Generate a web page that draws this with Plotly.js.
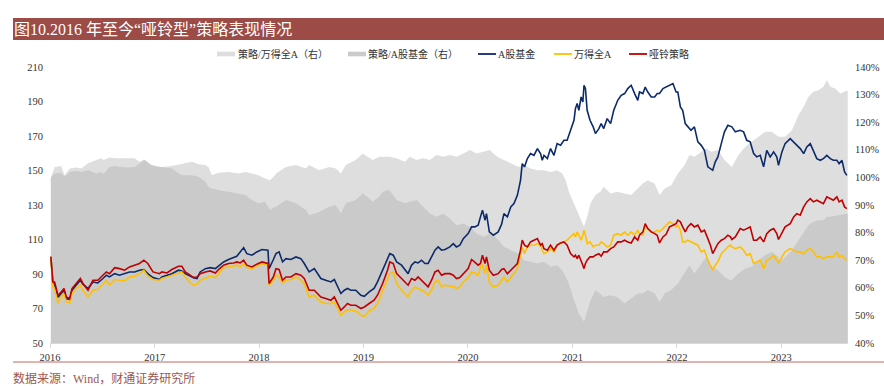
<!DOCTYPE html>
<html>
<head>
<meta charset="utf-8">
<script src="https://cdn.plot.ly/plotly-3.0.1.min.js"></script>
<style>html,body{margin:0;padding:0;background:#fff;}#chart{width:884px;height:386px;}</style>
</head>
<body>
<div id="chart"></div>
<script>
// ---------- DATA ----------
const titleText = '图10.2016 年至今“哑铃型”策略表现情况';
const sourceText = '数据来源：Wind，财通证券研究所';
const seriesNames = ['策略/万得全A（右）', '策略/A股基金（右）', 'A股基金', '万得全A', '哑铃策略'];
const yearTicks = ['2016-01-01','2017-01-01','2018-01-01','2019-01-01','2020-01-01','2021-01-01','2022-01-01','2023-01-01'];
const yearLabels = ['2016','2017','2018','2019','2020','2021','2022','2023'];
const leftTicks = [50,70,90,110,130,150,170,190,210];
const rightTicks = [40,50,60,70,80,90,100,110,120,130,140];
const rightLabels = ['40%','50%','60%','70%','80%','90%','100%','110%','120%','130%','140%'];

const lineDates = [
"2016-01-04","2016-01-11","2016-01-17","2016-01-29","2016-02-09","2016-02-19","2016-02-27","2016-03-10","2016-03-18","2016-04-02","2016-04-16","2016-04-25","2016-05-13","2016-05-30","2016-06-16","2016-07-04","2016-07-16","2016-07-27","2016-08-14","2016-08-31","2016-09-18","2016-10-05","2016-10-23","2016-11-09","2016-11-24","2016-12-08","2016-12-26","2017-01-18",
"2017-01-26","2017-02-13","2017-03-02","2017-03-25","2017-04-06","2017-04-18","2017-05-05","2017-05-17","2017-05-29","2017-06-09","2017-06-27","2017-07-14","2017-08-01","2017-08-12","2017-08-30","2017-09-16","2017-10-04","2017-10-15","2017-10-27","2017-11-08","2017-11-19","2017-12-07","2017-12-24","2018-01-11","2018-02-01","2018-02-05","2018-02-20",
"2018-03-01","2018-03-12","2018-03-24","2018-04-05","2018-04-22","2018-05-10","2018-05-27","2018-06-08","2018-06-25","2018-07-13","2018-07-24","2018-08-05","2018-08-22","2018-09-09","2018-09-21","2018-10-02","2018-10-14","2018-10-26","2018-11-06","2018-11-18","2018-12-05","2018-12-23","2019-01-04","2019-01-21","2019-02-07","2019-02-19","2019-03-09","2019-03-26",
"2019-04-03","2019-04-15","2019-04-27","2019-05-14","2019-05-26","2019-06-06","2019-06-18","2019-06-30","2019-07-11","2019-07-23","2019-08-04","2019-08-15","2019-08-27","2019-09-08","2019-09-19","2019-10-01","2019-10-13","2019-10-30","2019-11-11","2019-11-22","2019-12-04","2019-12-16","2020-01-02","2020-01-14","2020-01-25","2020-02-06","2020-02-14","2020-02-21","2020-03-01","2020-03-06","2020-03-16","2020-03-30","2020-04-16","2020-04-28",
"2020-05-06","2020-05-18","2020-05-30","2020-06-10","2020-06-22","2020-07-03","2020-07-09","2020-07-17","2020-07-27","2020-08-07","2020-08-19","2020-08-31","2020-09-11","2020-09-17","2020-09-23","2020-10-05","2020-10-16","2020-10-28","2020-11-08","2020-11-20","2020-12-02","2020-12-13","2020-12-25","2021-01-06","2021-01-11","2021-01-17","2021-01-23","2021-01-31","2021-02-06","2021-02-10","2021-02-15","2021-02-21","2021-03-03","2021-03-14","2021-03-22","2021-04-03","2021-04-11","2021-04-20","2021-05-02","2021-05-14","2021-05-25",
"2021-06-08","2021-06-20","2021-07-02","2021-07-13","2021-07-25","2021-08-06","2021-08-17","2021-08-23","2021-09-04","2021-09-12","2021-09-21","2021-10-03","2021-10-15","2021-10-24","2021-11-01","2021-11-13","2021-11-24","2021-12-06","2021-12-18","2021-12-29","2022-01-04","2022-01-13","2022-01-21","2022-01-30","2022-02-08","2022-02-19","2022-03-03","2022-03-15","2022-03-27","2022-04-07","2022-04-19","2022-04-28","2022-05-06","2022-05-15","2022-05-24","2022-06-05","2022-06-16","2022-06-28","2022-07-07",
"2022-07-12","2022-07-24","2022-08-10","2022-08-22","2022-09-02","2022-09-14","2022-09-26","2022-10-07","2022-10-19","2022-10-31","2022-11-11","2022-11-23","2022-12-05","2022-12-16","2022-12-22","2023-01-03","2023-01-14","2023-02-01","2023-02-13","2023-02-24","2023-03-08","2023-03-20","2023-03-31","2023-04-12","2023-04-23","2023-05-05","2023-05-17","2023-05-28","2023-06-09","2023-06-21","2023-07-02","2023-07-14","2023-07-22","2023-08-01","2023-08-10","2023-08-18"
];

const dumbbell = [
100,85.4,85.4,77.5,79.6,81.6,76.7,75.8,81.6,84.5,87.4,84.5,80.6,86.4,86.4,89.3,91.2,90.2,93.7,93.1,92.2,94.1,95.1,96.1,98.0,96.1,91.2,90.2,
91.2,90.6,92.6,94.5,94.5,91.2,89.3,87.9,88.3,90.2,91.2,91.8,90.6,92.6,95.1,96.1,96.4,97.0,96.4,98.0,95.1,94.1,95.7,97.0,96.1,84.5,88.3,
93.1,92.6,86.4,88.3,88.3,90.2,89.3,87.4,80.6,80.6,78.7,76.7,75.8,74.8,76.7,72.9,69.0,70.9,72.9,71.9,71.9,70.0,70.9,72.9,74.8,77.7,84.5,92.2,
97.0,96.1,90.2,87.4,85.4,83.5,87.4,86.4,88.3,86.4,84.5,82.5,86.4,91.2,92.2,89.3,90.2,90.2,89.3,87.4,87.9,90.2,93.1,98.4,97.0,95.1,96.1,100.9,96.1,99.9,92.2,89.3,90.2,92.6,
93.1,90.2,92.2,94.1,96.1,103.8,109.6,106.7,105.7,108.6,109.6,110.5,106.7,107.6,104.7,103.8,106.7,103.8,106.7,108.0,108.6,106.7,101.8,99.9,100.9,98.9,100.9,98.0,95.1,93.1,96.1,98.0,99.9,99.9,100.9,101.8,100.3,102.8,102.8,104.7,105.7,
108.6,108.6,109.6,108.6,108.0,111.5,109.6,112.5,114.4,119.2,116.3,114.4,113.4,112.5,108.0,111.5,113.0,117.3,118.3,119.2,121.2,120.2,117.3,114.4,117.3,119.2,117.3,118.3,114.4,115.4,110.5,106.7,101.8,104.7,107.6,109.6,110.5,112.5,111.5,
110.0,111.5,116.3,115.4,116.3,117.3,109.6,109.6,111.5,108.6,113.4,115.4,116.3,113.4,110.0,113.4,117.3,119.2,123.1,125.0,124.1,128.9,131.8,133.7,131.8,132.8,131.8,130.8,134.7,133.7,132.8,134.7,131.8,132.8,128.9,127.9
];

const fundIndex = [
100,84.8,84.1,76.5,78.7,80.6,75.8,75.2,80.6,83.5,86.4,84.1,81.6,85.4,84.8,87.4,89.3,88.3,90.2,89.3,90.2,91.2,91.2,92.2,92.6,90.2,87.9,86.8,
88.3,89.3,90.2,92.2,91.8,90.2,88.7,87.9,87.4,91.2,93.1,93.7,93.1,94.5,97.0,98.4,99.5,100.3,102.8,105.3,101.8,100.9,102.8,104.2,103.8,93.1,98.4,
101.8,102.8,97.0,98.9,98.4,99.9,98.9,96.1,91.2,93.1,90.2,87.4,86.4,85.4,86.8,82.5,78.7,80.6,81.6,80.6,80.6,77.7,77.1,79.6,81.6,85.4,92.2,98.0,
101.8,100.9,97.0,95.1,92.2,90.2,95.1,97.0,96.4,98.0,96.1,96.1,99.9,103.8,105.7,103.8,104.2,105.7,107.6,105.7,106.7,110.5,113.4,117.3,117.3,118.3,123.1,127.0,121.2,125.0,114.4,112.5,114.4,118.9,
125.0,123.1,128.9,130.8,135.6,144.3,154.0,152.1,156.9,159.8,158.8,162.7,159.8,155.9,158.8,156.9,162.7,158.8,165.6,164.6,167.5,167.5,173.3,179.1,185.9,188.8,184.9,192.6,189.7,199.4,197.5,184.9,179.1,175.3,171.4,174.3,177.2,174.3,180.1,177.2,184.9,
190.7,193.6,194.6,197.5,199.4,194.6,190.7,195.5,194.6,198.4,195.5,192.6,192.6,194.6,194.6,197.5,198.4,199.4,200.4,195.5,195.5,186.9,184.9,177.2,175.3,173.3,175.3,166.6,164.6,161.7,152.1,151.1,150.1,155.0,157.9,165.6,172.4,176.2,175.3,
175.3,172.4,173.3,172.4,167.5,166.6,159.8,157.9,158.8,152.1,161.7,157.9,160.8,157.9,153.0,160.8,165.6,168.5,166.6,164.6,162.7,159.8,163.7,165.6,161.7,156.9,155.9,156.9,158.8,156.9,155.9,155.9,154.0,155.9,149.2,147.2
];

const windA = [
100,82.5,81.6,73.0,76.7,78.7,73.8,73.2,78.7,81.6,83.5,80.6,76.7,80.6,81.0,84.5,86.4,83.5,86.8,86.4,86.0,88.3,88.7,90.2,92.2,88.7,86.8,86.4,
87.4,88.3,89.3,90.2,91.2,88.3,84.8,83.5,84.1,86.4,87.4,88.7,87.9,90.2,93.7,94.1,94.5,95.3,94.1,96.1,93.7,93.1,94.5,96.1,95.1,83.5,86.4,
89.3,88.3,84.8,86.4,86.8,88.3,86.4,84.5,76.7,77.7,75.8,73.8,72.9,72.9,73.8,70.0,66.1,68.0,69.4,69.0,68.6,66.1,65.5,68.6,70.0,72.9,80.6,87.4,
90.2,91.2,84.5,80.6,78.7,76.7,80.6,82.5,81.6,80.6,79.6,77.7,80.6,85.4,86.4,82.5,83.5,82.9,82.9,81.6,82.5,85.4,87.9,91.2,90.6,89.3,94.1,95.1,90.2,95.1,85.4,82.5,83.5,86.4,
88.3,85.4,88.3,90.2,93.1,100.9,105.7,101.8,105.7,106.7,106.7,107.6,106.7,103.8,101.8,102.8,104.7,102.8,106.7,107.6,108.6,109.6,111.5,113.4,111.5,114.4,112.5,109.6,112.5,115.4,112.5,107.6,108.6,105.7,106.7,106.7,108.6,107.6,105.7,106.7,112.5,
113.4,112.5,114.4,112.5,114.4,112.5,115.4,113.4,112.5,118.3,116.3,114.4,114.4,115.4,114.4,116.3,118.3,120.2,119.2,117.3,118.3,115.4,108.6,108.6,109.6,108.6,107.6,106.7,102.8,103.8,98.0,95.1,92.2,95.1,97.0,101.8,103.8,105.7,106.7,
105.7,104.7,105.7,103.8,100.9,101.8,96.1,97.0,98.0,93.1,98.0,98.9,100.9,98.0,96.1,99.9,102.8,104.7,103.8,102.8,102.8,101.8,103.8,104.7,102.8,99.9,99.9,98.9,99.9,99.9,99.9,102.8,99.9,100.9,98.9,98.0
];

const areaDates = [
"2016-01-04","2016-01-17","2016-02-09","2016-02-21","2016-03-10","2016-04-02","2016-04-19","2016-05-13","2016-06-11","2016-06-28","2016-07-07","2016-07-27","2016-08-14","2016-09-18","2016-10-23","2016-11-09","2016-11-26","2016-12-20","2017-01-12",
"2017-01-26","2017-03-02","2017-04-06","2017-05-11","2017-06-03","2017-06-27","2017-07-08","2017-07-20","2017-08-12","2017-09-16","2017-10-21","2017-11-14","2017-12-07","2017-12-30","2018-01-22","2018-02-08","2018-02-26",
"2018-03-01","2018-04-05","2018-05-10","2018-06-14","2018-06-25","2018-07-30","2018-09-03","2018-09-26","2018-10-14","2018-10-31","2018-12-05","2018-12-29","2019-01-15","2019-02-02","2019-02-25","2019-03-09","2019-04-01",
"2019-04-27","2019-05-26","2019-06-12","2019-07-06","2019-07-29","2019-08-21","2019-09-13","2019-10-07","2019-10-30","2019-11-22","2019-12-16","2020-01-08","2020-01-31","2020-02-24","2020-03-18","2020-04-05","2020-04-22",
"2020-05-06","2020-05-30","2020-06-27","2020-07-15","2020-08-07","2020-08-31","2020-09-23","2020-10-16","2020-11-08","2020-11-26","2020-12-08","2020-12-19","2021-01-06","2021-01-23","2021-02-10","2021-02-21","2021-03-05","2021-03-22","2021-04-08","2021-04-20","2021-05-14","2021-06-06",
"2021-07-02","2021-07-25","2021-08-17","2021-09-04","2021-09-21","2021-10-15","2021-11-01","2021-11-19","2021-12-12","2022-01-04","2022-01-28","2022-02-14","2022-03-03","2022-03-27","2022-04-13","2022-05-01","2022-05-24","2022-06-16","2022-07-04",
"2022-07-12","2022-08-04","2022-08-28","2022-09-19","2022-10-13","2022-11-05","2022-11-28","2022-12-22","2022-12-28","2023-01-14","2023-02-07","2023-03-02","2023-03-20","2023-04-06","2023-04-23","2023-05-11","2023-05-28","2023-06-09","2023-06-21","2023-07-08","2023-07-26","2023-08-21"
];

const ratioVsWindA = [
100,103.8,104.1,100.8,103.2,103.6,103.2,105.1,106.3,106.9,106.3,107.2,106.9,106.9,106.9,105.7,106.5,104.5,104.1,
103.8,104.1,104.8,105.7,104.8,104.5,103.8,100.8,101.7,102.0,101.4,102.0,101.4,100.8,99.6,99.0,100.8,
101.4,103.8,104.5,103.2,104.5,102.6,103.8,103.2,101.4,104.5,106.3,108.7,107.5,106.3,107.5,107.5,107.5,
106.9,105.7,107.5,106.3,106.9,106.3,108.1,107.5,108.1,107.5,108.7,109.9,108.7,109.3,109.9,108.1,106.9,
106.3,105.1,103.8,104.5,103.2,102.6,102.6,102.0,102.6,101.4,99.0,94.8,90.6,86.9,82.1,85.7,90.6,93.6,94.8,96.6,94.2,94.8,
94.2,93.6,96.0,97.8,99.0,97.8,93.6,96.0,97.2,101.4,104.5,108.1,107.5,109.3,110.5,109.3,109.9,106.3,104.5,
103.8,108.1,111.1,112.9,114.7,116.5,116.5,114.7,114.7,114.7,117.1,122.6,125.6,129.2,131.0,131.6,132.8,135.3,132.8,132.2,130.4,131.6
];

const ratioVsFund = [
100,101.4,101.7,100.2,102.0,102.4,102.0,102.6,101.4,102.0,101.2,103.8,104.1,103.6,103.8,105.1,106.3,104.5,103.8,
103.8,103.2,100.8,100.8,100.2,98.4,96.6,96.0,95.4,94.8,94.2,93.6,91.8,90.6,91.2,88.2,89.4,
89.4,91.8,90.6,88.2,86.3,87.5,89.4,90.0,86.9,90.6,91.8,94.2,93.0,91.2,93.0,94.8,95.4,
91.8,90.6,91.2,91.8,89.4,86.9,85.7,86.9,85.1,82.7,83.3,82.1,79.7,78.5,79.7,78.5,76.7,
74.9,73.6,72.4,70.0,69.4,68.8,69.4,67.6,68.2,66.4,64.0,61.6,55.5,50.7,47.7,51.9,55.5,59.2,57.9,56.7,57.3,56.7,
54.3,56.1,57.9,57.9,59.2,57.9,54.9,57.9,59.2,61.6,65.2,68.2,65.2,68.8,71.2,67.6,66.4,64.0,62.8,
62.8,65.2,67.0,67.6,70.0,71.8,73.0,71.2,69.4,71.2,73.6,77.3,80.3,82.7,83.9,84.5,84.5,85.7,85.7,86.0,86.3,86.9
];

// ---------- STYLE / LAYOUT ----------
const W = 884, H = 386, ML = 50, MR = 36, MT = 67, MB = 43;
const PW = W - ML - MR, PH = H - MT - MB;
const px = x => (x - ML) / PW;
const py = y => (H - MB - y) / PH;

const colLight = '#dedede', colDark = '#cacaca';
const colBlue = '#0d2a6b', colYellow = '#ffc000', colRed = '#c00000';
const serif = '"Liberation Serif", "Times New Roman", "Noto Sans CJK SC", serif';
const cjk = '"Liberation Serif", "Noto Sans CJK SC", sans-serif';

const traces = [
  {x: areaDates, y: ratioVsWindA, name: seriesNames[0], type: 'scatter', mode: 'lines',
   fill: 'tozeroy', fillcolor: colLight, line: {width: 0, color: colLight}, xaxis: 'x', yaxis: 'y'},
  {x: areaDates, y: ratioVsFund, name: seriesNames[1], type: 'scatter', mode: 'lines',
   fill: 'tozeroy', fillcolor: colDark, line: {width: 0, color: colDark}, xaxis: 'x', yaxis: 'y'},
  {x: lineDates, y: fundIndex, name: seriesNames[2], type: 'scatter', mode: 'lines',
   line: {width: 1.6, color: colBlue}, xaxis: 'x', yaxis: 'y2'},
  {x: lineDates, y: windA, name: seriesNames[3], type: 'scatter', mode: 'lines',
   line: {width: 1.6, color: colYellow}, xaxis: 'x', yaxis: 'y2'},
  {x: lineDates, y: dumbbell, name: seriesNames[4], type: 'scatter', mode: 'lines',
   line: {width: 1.6, color: colRed}, xaxis: 'x', yaxis: 'y2'}
];

const legY = py(54);
const shapes = [
  {type: 'rect', xref: 'paper', yref: 'paper', x0: px(13), x1: px(884), y0: py(40), y1: py(18),
   fillcolor: '#9c4b46', line: {width: 0}},
  {type: 'rect', xref: 'paper', yref: 'paper', x0: px(217), x1: px(235), y0: py(56.3), y1: py(51.7),
   fillcolor: colLight, line: {width: 0}},
  {type: 'rect', xref: 'paper', yref: 'paper', x0: px(348), x1: px(366), y0: py(56.3), y1: py(51.7),
   fillcolor: colDark, line: {width: 0}},
  {type: 'line', xref: 'paper', yref: 'paper', x0: px(478), x1: px(496), y0: legY, y1: legY,
   line: {color: colBlue, width: 1.8}},
  {type: 'line', xref: 'paper', yref: 'paper', x0: px(554), x1: px(572), y0: legY, y1: legY,
   line: {color: colYellow, width: 1.8}},
  {type: 'line', xref: 'paper', yref: 'paper', x0: px(629), x1: px(647), y0: legY, y1: legY,
   line: {color: colRed, width: 1.8}},
  {type: 'line', xref: 'paper', yref: 'paper', x0: px(13), x1: px(884), y0: py(362), y1: py(362),
   line: {color: '#c8675f', width: 1}}
];

const legText = (t, x) => ({text: t, xref: 'paper', yref: 'paper', x: px(x), y: legY,
  xanchor: 'left', yanchor: 'middle', showarrow: false,
  font: {family: cjk, size: 10, color: '#333'}});

const annotations = [
  legText(seriesNames[0], 236),
  legText(seriesNames[1], 366),
  legText(seriesNames[2], 496),
  legText(seriesNames[3], 572),
  legText(seriesNames[4], 647),
  {text: sourceText, xref: 'paper', yref: 'paper', x: px(11), y: py(378), xanchor: 'left', yanchor: 'middle',
   showarrow: false, font: {family: cjk, size: 12, color: '#a0554c'}}
];

const tickFont = {family: serif, size: 10.5, color: '#333'};

const layout = {
  width: W, height: H,
  margin: {l: ML, r: MR, t: MT, b: MB, pad: 0},
  paper_bgcolor: '#ffffff', plot_bgcolor: '#ffffff',
  showlegend: false,
  title: {text: titleText, xref: 'container', yref: 'container', x: 14 / W, xanchor: 'left',
          y: 1 - 29.5 / H, yanchor: 'middle', font: {family: cjk, size: 16, color: '#ffffff'}},
  xaxis: {type: 'date', range: ['2016-01-01', '2023-08-22'], tickvals: yearTicks, ticktext: yearLabels,
          showgrid: false, zeroline: false, showline: true, linecolor: '#d9d9d9', linewidth: 1,
          ticks: 'outside', ticklen: 4, tickcolor: '#d9d9d9', tickfont: tickFont, fixedrange: true},
  yaxis: {range: [40, 140], side: 'right', tickvals: rightTicks, ticktext: rightLabels,
          showgrid: false, zeroline: false, showline: false, ticks: '', tickfont: tickFont,
          ticklabelstandoff: 6, fixedrange: true},
  yaxis2: {range: [50, 210], side: 'left', overlaying: 'y', tickvals: leftTicks,
           showgrid: false, zeroline: false, showline: false, ticks: '', tickfont: tickFont,
           ticklabelstandoff: 6, fixedrange: true},
  shapes: shapes,
  annotations: annotations,
  hovermode: false
};

Plotly.newPlot('chart', traces, layout, {staticPlot: true, displayModeBar: false});
</script>
</body>
</html>
